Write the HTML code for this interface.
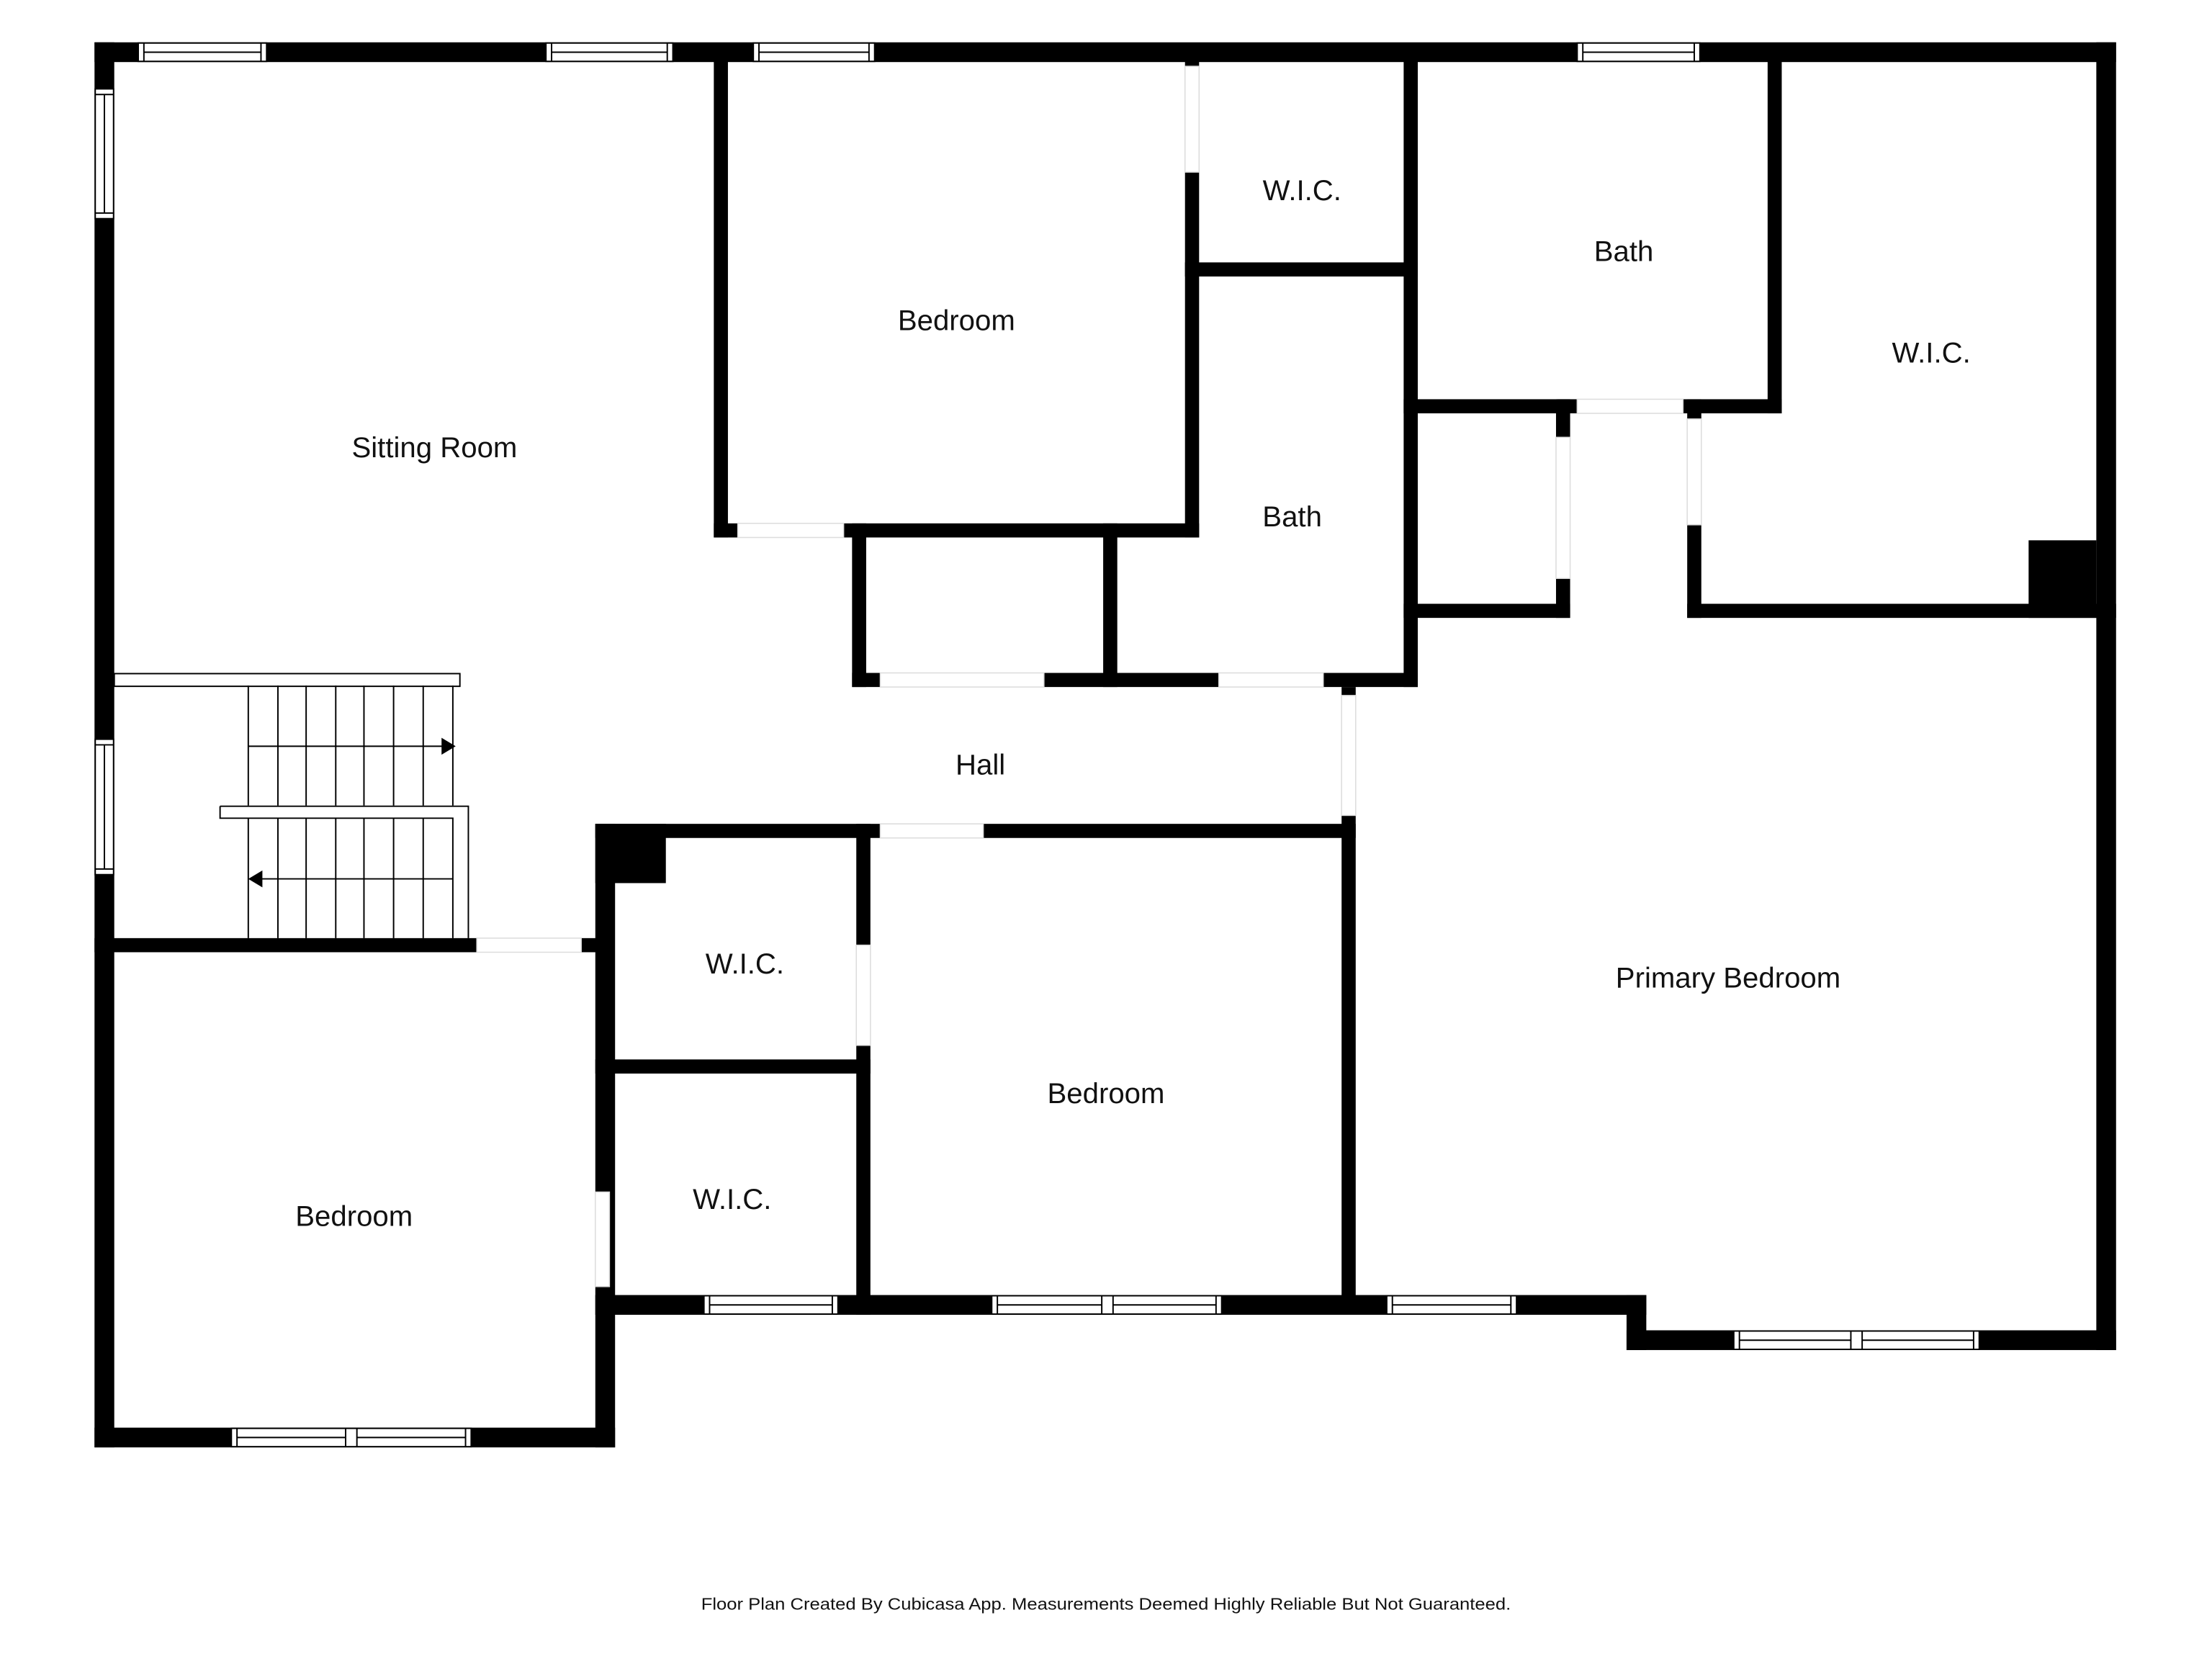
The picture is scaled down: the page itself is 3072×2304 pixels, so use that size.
<!DOCTYPE html>
<html><head><meta charset="utf-8"><style>
html,body{margin:0;padding:0;background:#fff;}
svg{display:block;}
text{font-family:"Liberation Sans",sans-serif;fill:#111;}
</style></head><body>
<svg width="3072" height="2304" viewBox="0 0 1568 1176" xmlns="http://www.w3.org/2000/svg">
<rect width="1568" height="1176" fill="#fff"/>
<g fill="#000">
<!-- outer -->
<rect x="67" y="30" width="1433" height="14"/>
<rect x="67" y="30" width="14" height="996"/>
<rect x="1486" y="30" width="14" height="927"/>
<rect x="67" y="1012" width="369" height="14"/>
<rect x="422" y="584" width="14" height="442"/>
<rect x="422" y="918" width="745" height="14"/>
<rect x="1153" y="918" width="14" height="39"/>
<rect x="1153" y="943" width="347" height="14"/>
<!-- interior -->
<rect x="506" y="37" width="10" height="344"/>
<rect x="506" y="371" width="344" height="10"/>
<rect x="840" y="37" width="10" height="344"/>
<rect x="840" y="186" width="165" height="10"/>
<rect x="995" y="37" width="10" height="450"/>
<rect x="604" y="371" width="10" height="116"/>
<rect x="782" y="371" width="10" height="116"/>
<rect x="604" y="477" width="401" height="10"/>
<rect x="951" y="487" width="10" height="438"/>
<rect x="422" y="584" width="539" height="10"/>
<rect x="422" y="584" width="50" height="42"/>
<rect x="67" y="665" width="365" height="10"/>
<rect x="422" y="751" width="195" height="10"/>
<rect x="607" y="584" width="10" height="348"/>
<rect x="995" y="283" width="118" height="10"/>
<rect x="1103" y="283" width="10" height="155"/>
<rect x="995" y="428" width="118" height="10"/>
<rect x="1253" y="37" width="10" height="256"/>
<rect x="1104" y="283" width="159" height="10"/>
<rect x="1196" y="283" width="10" height="155"/>
<rect x="1196" y="428" width="304" height="10"/>
<rect x="1438" y="383" width="48" height="55"/>
</g>
<!-- door gaps -->
<g fill="#fff" stroke="#ddd" stroke-width="0.8">
<rect x="523" y="371" width="75" height="10"/>
<rect x="840" y="47" width="10" height="75"/>
<rect x="624" y="477" width="116" height="10"/>
<rect x="864" y="477" width="74" height="10"/>
<rect x="951" y="493" width="10" height="85"/>
<rect x="624" y="584" width="73" height="10"/>
<rect x="338" y="665" width="74" height="10"/>
<rect x="422" y="845" width="10" height="67"/>
<rect x="607" y="670" width="10" height="71"/>
<rect x="1103" y="310" width="10" height="100"/>
<rect x="1118" y="283" width="75" height="10"/>
<rect x="1196" y="297" width="10" height="75"/>
</g>
<!-- windows horizontal -->
<g fill="#fff" stroke="#000" stroke-width="1">
<rect x="98" y="30.5" width="91" height="13"/><path d="M102 30.5V43.5M185 30.5V43.5M102 37H185" fill="none"/>
<rect x="387" y="30.5" width="90" height="13"/><path d="M391 30.5V43.5M473 30.5V43.5M391 37H473" fill="none"/>
<rect x="534" y="30.5" width="86" height="13"/><path d="M538 30.5V43.5M616 30.5V43.5M538 37H616" fill="none"/>
<rect x="1118" y="30.5" width="87" height="13"/><path d="M1122 30.5V43.5M1201 30.5V43.5M1122 37H1201" fill="none"/>
<rect x="67.5" y="63" width="13" height="92"/><path d="M67.5 67H80.5M67.5 151H80.5M74 67V151" fill="none"/>
<rect x="67.5" y="524" width="13" height="96"/><path d="M67.5 528H80.5M67.5 616H80.5M74 528V616" fill="none"/>
<rect x="164" y="1012.5" width="170" height="13"/><path d="M168 1012.5V1025.5M245 1012.5V1025.5M253 1012.5V1025.5M330 1012.5V1025.5M168 1019H245M253 1019H330" fill="none"/>
<rect x="499" y="918.5" width="95" height="13"/><path d="M503 918.5V931.5M590 918.5V931.5M503 925H590" fill="none"/>
<rect x="703" y="918.5" width="163" height="13"/><path d="M707 918.5V931.5M781 918.5V931.5M789 918.5V931.5M862 918.5V931.5M707 925H781M789 925H862" fill="none"/>
<rect x="983" y="918.5" width="92" height="13"/><path d="M987 918.5V931.5M1071 918.5V931.5M987 925H1071" fill="none"/>
<rect x="1229" y="943.5" width="174" height="13"/><path d="M1233 943.5V956.5M1312 943.5V956.5M1320 943.5V956.5M1399 943.5V956.5M1233 950H1312M1320 950H1399" fill="none"/>
</g>
<!-- stairs -->
<g stroke="#000" stroke-width="1" fill="none">
<rect x="81" y="477.5" width="245" height="9" fill="#fff"/>
<path d="M176 486V571M197 486V571M217 486V571M238 486V571M258 486V571M279 486V571M300 486V571M321 486V571"/>
<path d="M176 529H316"/>
<path d="M156 571.5H332V665M156 571.5V580H321V665"/>
<path d="M176 580V665M197 580V665M217 580V665M238 580V665M258 580V665M279 580V665M300 580V665"/>
<path d="M181 623H321"/>
</g>
<polygon points="323,529 313,523 313,535" fill="#000"/>
<polygon points="176,623 186,617 186,629" fill="#000"/>
<!-- labels -->
<g font-size="20.5" text-anchor="middle">
<text x="308" y="324">Sitting Room</text>
<text x="678" y="234">Bedroom</text>
<text x="923" y="142">W.I.C.</text>
<text x="1151" y="185">Bath</text>
<text x="1369" y="257">W.I.C.</text>
<text x="916" y="373">Bath</text>
<text x="695" y="549">Hall</text>
<text x="528" y="690">W.I.C.</text>
<text x="519" y="857">W.I.C.</text>
<text x="784" y="782">Bedroom</text>
<text x="251" y="869">Bedroom</text>
<text x="1225" y="700">Primary Bedroom</text>
</g>
<text x="497" y="1141" font-size="12" textLength="574" lengthAdjust="spacingAndGlyphs">Floor Plan Created By Cubicasa App. Measurements Deemed Highly Reliable But Not Guaranteed.</text>
</svg>
</body></html>
